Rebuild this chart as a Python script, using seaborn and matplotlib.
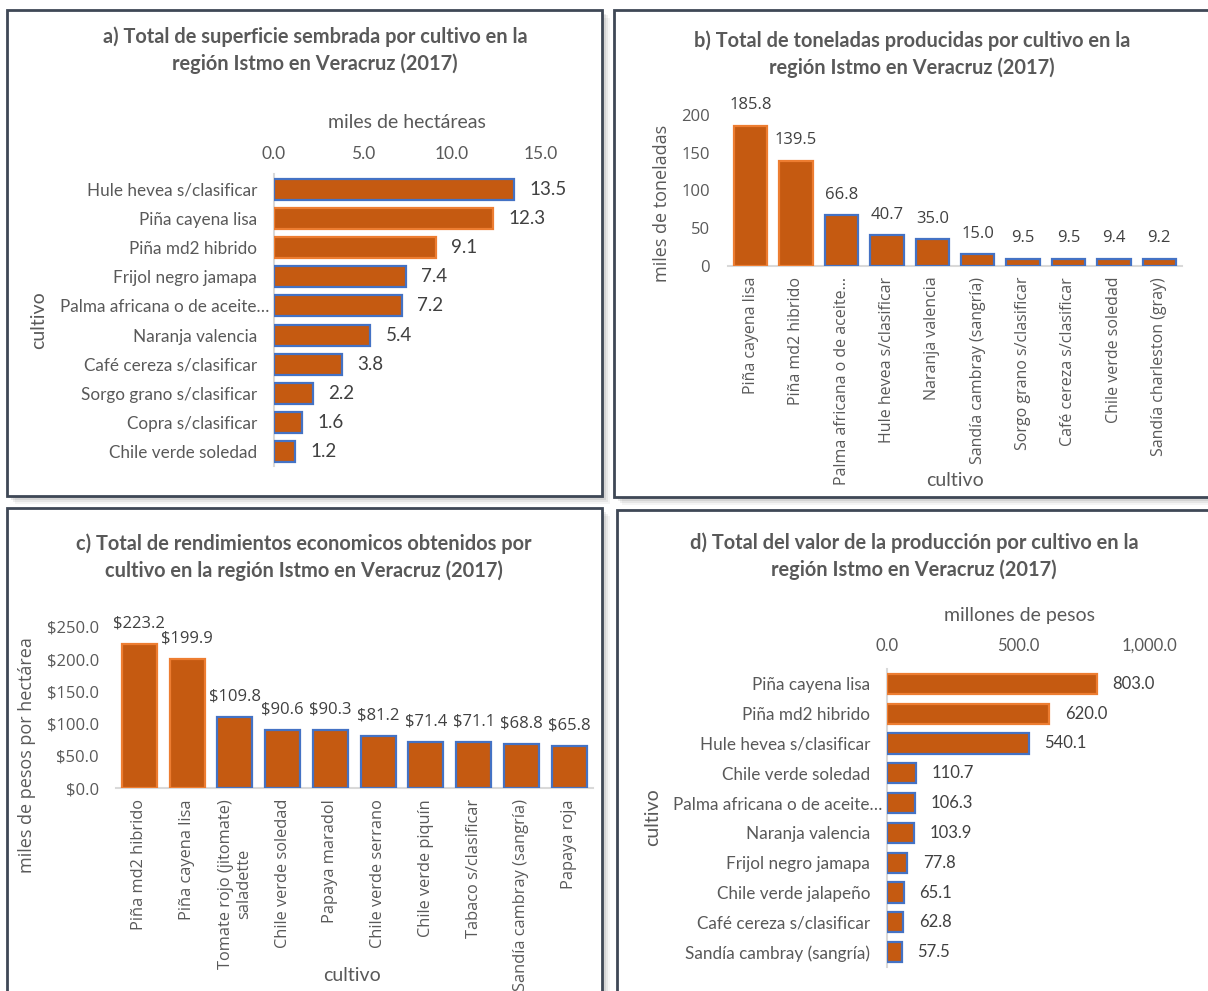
"""
Cuatro paneles de cultivos de la región Istmo en Veracruz (2017).
"""
import matplotlib.pyplot as plt
import matplotlib.transforms as mtransforms
import seaborn as sns
from matplotlib.patches import Rectangle
from matplotlib.ticker import FuncFormatter, MultipleLocator

W, H = 1208, 991

# a) superficie sembrada (miles de hectáreas)
cultivos_a = [
    "Hule hevea s/clasificar", "Piña cayena lisa", "Piña md2 hibrido",
    "Frijol negro jamapa", "Palma africana o de aceite…", "Naranja valencia",
    "Café cereza s/clasificar", "Sorgo grano s/clasificar", "Copra s/clasificar",
    "Chile verde soledad",
]
superficie = [13.5, 12.3, 9.1, 7.4, 7.2, 5.4, 3.8, 2.2, 1.6, 1.2]

# b) toneladas producidas (miles)
cultivos_b = [
    "Piña cayena lisa", "Piña md2 hibrido", "Palma africana o de aceite…",
    "Hule hevea s/clasificar", "Naranja valencia", "Sandía cambray (sangría)",
    "Sorgo grano s/clasificar", "Café cereza s/clasificar", "Chile verde soledad",
    "Sandía charleston (gray)",
]
toneladas = [185.8, 139.5, 66.8, 40.7, 35.0, 15.0, 9.5, 9.5, 9.4, 9.2]

# c) rendimientos económicos (miles de pesos por hectárea)
cultivos_c = [
    "Piña md2 hibrido", "Piña cayena lisa", "Tomate rojo (jitomate)\nsaladette",
    "Chile verde soledad", "Papaya maradol", "Chile verde serrano",
    "Chile verde piquín", "Tabaco s/clasificar", "Sandía cambray (sangría)",
    "Papaya roja",
]
rendimiento = [223.2, 199.9, 109.8, 90.6, 90.3, 81.2, 71.4, 71.1, 68.8, 65.8]

# d) valor de la producción (millones de pesos)
cultivos_d = [
    "Piña cayena lisa", "Piña md2 hibrido", "Hule hevea s/clasificar",
    "Chile verde soledad", "Palma africana o de aceite…", "Naranja valencia",
    "Frijol negro jamapa", "Chile verde jalapeño", "Café cereza s/clasificar",
    "Sandía cambray (sangría)",
]
valor = [803.0, 620.0, 540.1, 110.7, 106.3, 103.9, 77.8, 65.1, 62.8, 57.5]

FILL = "#C55A11"
EDGE_BLUE = "#4472C4"
EDGE_ORANGE = "#ED7D31"
TXT = "#595959"
AXIS = "#D9D9D9"
FRAME = "#3F4856"

sns.set_theme(style="white")
plt.rcParams["font.family"] = ["Lato", "DejaVu Sans"]
CAL = ["Lato", "DejaVu Sans"]
SEG = ["Open Sans", "DejaVu Sans"]

fig = plt.figure(figsize=(W / 100, H / 100), dpi=100)


def fx(x):
    return x / W


def fy(y):
    return 1 - y / H


def place(ax, left, top, right, bottom):
    ax.set_position([fx(left), fy(bottom), (right - left) / W, (bottom - top) / H])
    ax.set_zorder(5)
    ax.patch.set_alpha(0)


def frame(left, top, right, bottom):
    # sombra suave + marco
    for i, a in enumerate([0.10, 0.08, 0.06, 0.04]):
        off = 2 + 2 * i
        fig.patches.append(Rectangle((fx(left + off), fy(bottom + off)),
                                     (right - left) / W, (bottom - top) / H,
                                     transform=fig.transFigure, facecolor="#000000",
                                     alpha=a, edgecolor="none", zorder=0))
    fig.patches.append(Rectangle((fx(left), fy(bottom)), (right - left) / W, (bottom - top) / H,
                                 transform=fig.transFigure, facecolor="white",
                                 edgecolor=FRAME, linewidth=2, zorder=1))


def title(x, y, text):
    fig.text(fx(x), fy(y), text, ha="center", va="center", fontsize=14.4,
             fontweight="bold", color=TXT, family=CAL, linespacing=1.4, zorder=6)


def color_edges(ax, labels):
    for patch, lab in zip(ax.patches, labels):
        patch.set_edgecolor(EDGE_ORANGE if lab.startswith("Piña") else EDGE_BLUE)
        patch.set_linewidth(1.6)


def nudge_truncated(ax):
    # Excel deja las etiquetas recortadas ("…") un poco más a la derecha
    off = mtransforms.ScaledTranslation(9 / 72, 0, fig.dpi_scale_trans)
    for t in ax.get_yticklabels():
        if t.get_text().endswith("…"):
            t.set_transform(t.get_transform() + off)


def style_spines(ax, keep):
    for side in ["top", "right", "left", "bottom"]:
        ax.spines[side].set_visible(side == keep)
    ax.spines[keep].set_color(AXIS)
    ax.spines[keep].set_linewidth(1.5)


frame(6.5, 9.5, 602, 496)
frame(614, 10, 1220, 497)
frame(6.5, 508, 602, 1000)
frame(617, 510, 1220, 1000)

# ---------- a) ----------
ax = fig.add_axes([0, 0, 1, 1])
sns.barplot(x=superficie, y=cultivos_a, orient="h", color=FILL, saturation=1,
            width=0.72, ax=ax, zorder=3)
color_edges(ax, cultivos_a)
place(ax, 274, 174.5, 541, 466.5)
ax.set_xlim(0, 15)
ax.xaxis.set_major_locator(MultipleLocator(5))
ax.xaxis.set_major_formatter(FuncFormatter(lambda v, p: f"{v:.1f}"))
ax.xaxis.tick_top()
ax.tick_params(axis="x", length=0, pad=9, labelsize=12.5, labelcolor=TXT)
ax.tick_params(axis="y", length=0, pad=12, labelsize=12.3, labelcolor=TXT)
style_spines(ax, "left")
nudge_truncated(ax)
ax.set_xlabel("miles de hectáreas", fontsize=14, color=TXT)
ax.xaxis.set_label_position("top")
ax.xaxis.set_label_coords(fx(407), fy(128), transform=fig.transFigure)
ax.set_ylabel("cultivo", fontsize=14, color=TXT)
ax.yaxis.set_label_coords(fx(47), fy(320), transform=fig.transFigure)
ax.bar_label(ax.containers[0], labels=[f"{v:.1f}" for v in superficie], padding=11,
             fontsize=13.5, color="#404040", family=CAL)
title(315, 50.5, "a) Total de superficie sembrada por cultivo en la\nregión Istmo en Veracruz (2017)")

# ---------- b) ----------
ax = fig.add_axes([0, 0, 1, 1])
sns.barplot(x=cultivos_b, y=toneladas, color=FILL, saturation=1, width=0.74, ax=ax, zorder=3)
color_edges(ax, cultivos_b)
place(ax, 728, 115, 1182, 265.7)
ax.set_ylim(0, 200)
ax.yaxis.set_major_locator(MultipleLocator(50))
ax.tick_params(axis="y", length=0, pad=13, labelsize=12, labelcolor=TXT)
ax.tick_params(axis="x", length=0, pad=8, labelsize=11.5, labelcolor=TXT, rotation=90)
for t in ax.get_xticklabels() + ax.get_yticklabels():
    t.set_family(SEG)
style_spines(ax, "bottom")
ax.set_xlabel("cultivo", fontsize=14, color=TXT)
ax.xaxis.set_label_coords(fx(955), fy(472), transform=fig.transFigure)
ax.set_ylabel("miles de toneladas", fontsize=13, color=TXT, family=SEG)
ax.yaxis.set_label_coords(fx(671), fy(203), transform=fig.transFigure)
ax.bar_label(ax.containers[0], labels=[f"{v:.1f}" for v in toneladas], padding=9,
             fontsize=12, color="#404040", family=SEG)
title(912, 54, "b) Total de toneladas producidas por cultivo en la\nregión Istmo en Veracruz (2017)")

# ---------- c) ----------
ax = fig.add_axes([0, 0, 1, 1])
sns.barplot(x=cultivos_c, y=rendimiento, color=FILL, saturation=1, width=0.73, ax=ax, zorder=3)
color_edges(ax, cultivos_c)
place(ax, 115.5, 627, 593, 788)
ax.set_ylim(0, 250)
ax.yaxis.set_major_locator(MultipleLocator(50))
ax.yaxis.set_major_formatter(FuncFormatter(lambda v, p: f"${v:.1f}"))
ax.tick_params(axis="y", length=0, pad=12, labelsize=12, labelcolor=TXT)
ax.tick_params(axis="x", length=0, pad=8, labelsize=11.8, labelcolor=TXT, rotation=90)
for t in ax.get_xticklabels() + ax.get_yticklabels():
    t.set_family(SEG)
style_spines(ax, "bottom")
ax.set_xlabel("cultivo", fontsize=14, color=TXT)
ax.xaxis.set_label_coords(fx(352), fy(967), transform=fig.transFigure)
ax.set_ylabel("miles de pesos por hectárea", fontsize=13, color=TXT, family=SEG)
ax.yaxis.set_label_coords(fx(36), fy(755), transform=fig.transFigure)
ax.bar_label(ax.containers[0], labels=[f"${v:.1f}" for v in rendimiento], padding=9,
             fontsize=12, color="#404040", family=SEG)
title(304, 557, "c) Total de rendimientos economicos obtenidos por\ncultivo en la región Istmo en Veracruz (2017)")

# ---------- d) ----------
ax = fig.add_axes([0, 0, 1, 1])
sns.barplot(x=valor, y=cultivos_d, orient="h", color=FILL, saturation=1,
            width=0.68, ax=ax, zorder=3)
color_edges(ax, cultivos_d)
place(ax, 887, 669, 1149, 967)
ax.set_xlim(0, 1000)
ax.xaxis.set_major_locator(MultipleLocator(500))
ax.xaxis.set_major_formatter(FuncFormatter(lambda v, p: f"{v:,.1f}"))
ax.xaxis.tick_top()
ax.tick_params(axis="x", length=0, pad=11, labelsize=12, labelcolor=TXT)
ax.tick_params(axis="y", length=0, pad=12, labelsize=12.3, labelcolor=TXT)
style_spines(ax, "left")
nudge_truncated(ax)
ax.set_xlabel("millones de pesos", fontsize=14, color=TXT)
ax.xaxis.set_label_position("top")
ax.xaxis.set_label_coords(fx(1019), fy(621), transform=fig.transFigure)
ax.set_ylabel("cultivo", fontsize=14, color=TXT)
ax.yaxis.set_label_coords(fx(661), fy(817), transform=fig.transFigure)
ax.bar_label(ax.containers[0], labels=[f"{v:,.1f}" for v in valor], padding=11,
             fontsize=12, color="#404040", family=CAL)
title(914, 556, "d) Total del valor de la producción por cultivo en la\nregión Istmo en Veracruz (2017)")

fig.savefig("out.png", dpi=100, facecolor="white")
